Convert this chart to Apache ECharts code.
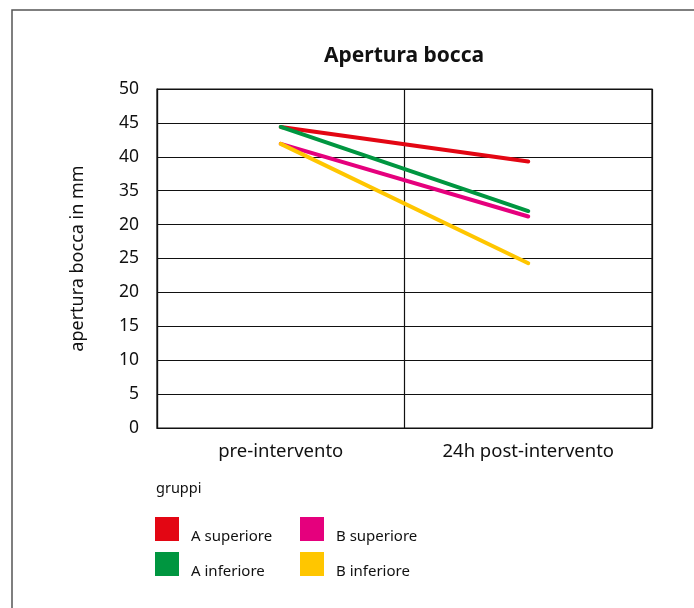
<!DOCTYPE html>
<html>
<head>
<meta charset="utf-8">
<script src="https://cdn.jsdelivr.net/npm/echarts@6/dist/echarts.min.js"></script>
<style>
  html, body { margin: 0; padding: 0; background: #fff; }
  #chart { width: 694px; height: 608px; }
</style>
</head>
<body>
<div id="chart"></div>
<script>
// Time points and mouth opening (mm) per group
const categories = ['pre-intervento', '24h post-intervento'];
const aSuperiore = [44.4, 39.3];
const aInferiore = [44.4, 32.0];
const bSuperiore = [41.9, 31.2];
const bInferiore = [41.9, 24.3];
// Y-axis tick labels as printed on the chart
const yTickLabels = ['0', '5', '10', '15', '20', '25', '20', '35', '40', '45', '50'];

const FONT = '"Noto Sans", "Open Sans", sans-serif';

const chart = echarts.init(document.getElementById('chart'), null, { renderer: 'canvas' });

function lineSeries(name, data, color) {
  return {
    name: name,
    type: 'line',
    data: data,
    symbol: 'none',
    color: color,
    lineStyle: { width: 4, color: color, cap: 'round' },
    itemStyle: { color: color },
    animation: false
  };
}

// Legend labels sit slightly below the centre of their swatch
const legendText = {
  fontFamily: FONT, fontSize: 15, color: '#111',
  rich: { t: { fontFamily: FONT, fontSize: 15, color: '#111', padding: [15, 0, 0, 7] } }
};

chart.setOption({
  backgroundColor: '#fff',
  animation: false,
  title: [
    {
      text: 'Apertura bocca',
      left: 404,
      top: 46,
      padding: 0,
      textAlign: 'center',
      textStyle: { fontFamily: FONT, fontWeight: 'bold', fontSize: 21, color: '#111' }
    },
    {
      text: 'gruppi',
      left: 156,
      top: 481,
      padding: 0,
      textStyle: { fontFamily: FONT, fontWeight: 'normal', fontSize: 14.5, color: '#111' }
    }
  ],
  graphic: [
    {
      type: 'rect',
      shape: { x: 12, y: 10, width: 720, height: 640 },
      style: { fill: 'none', stroke: '#555', lineWidth: 1.5 },
      silent: true
    }
  ],
  grid: {
    left: 157, top: 89, width: 495, height: 339,
    show: true, borderColor: '#111', borderWidth: 1.2,
    containLabel: false
  },
  legend: [
    {
      data: ['A superiore', 'A inferiore'],
      orient: 'vertical',
      left: 155, top: 517,
      padding: 0,
      itemWidth: 24, itemHeight: 24, itemGap: 8,
      icon: 'rect',
      formatter: '{t|{name}}',
      textStyle: legendText
    },
    {
      data: ['B superiore', 'B inferiore'],
      orient: 'vertical',
      left: 300, top: 517,
      padding: 0,
      itemWidth: 24, itemHeight: 24, itemGap: 8,
      icon: 'rect',
      formatter: '{t|{name}}',
      textStyle: legendText
    }
  ],
  xAxis: {
    type: 'category',
    data: categories,
    boundaryGap: true,
    axisLine: { show: true, lineStyle: { color: '#111', width: 1.2 } },
    axisTick: { show: false },
    axisLabel: { fontFamily: FONT, fontSize: 18.5, color: '#111', margin: 14 },
    splitLine: { show: true, lineStyle: { color: '#111', width: 1.2 } }
  },
  yAxis: {
    type: 'value',
    min: 0, max: 50, interval: 5,
    name: 'apertura bocca in mm',
    nameLocation: 'middle',
    nameGap: 70,
    nameRotate: 90,
    nameTextStyle: { fontFamily: FONT, fontSize: 18, color: '#111' },
    axisLine: { show: true, lineStyle: { color: '#111', width: 1.2 } },
    axisTick: { show: false },
    axisLabel: {
      fontFamily: FONT, fontSize: 17.5, color: '#111', margin: 18,
      formatter: function (v) { return yTickLabels[Math.round(v / 5)]; }
    },
    splitLine: { show: true, lineStyle: { color: '#111', width: 1.2 } }
  },
  series: [
    lineSeries('A superiore', aSuperiore, '#e30613'),
    lineSeries('B superiore', bSuperiore, '#e5007d'),
    lineSeries('A inferiore', aInferiore, '#009640'),
    lineSeries('B inferiore', bInferiore, '#ffc600')
  ]
});
</script>
</body>
</html>
